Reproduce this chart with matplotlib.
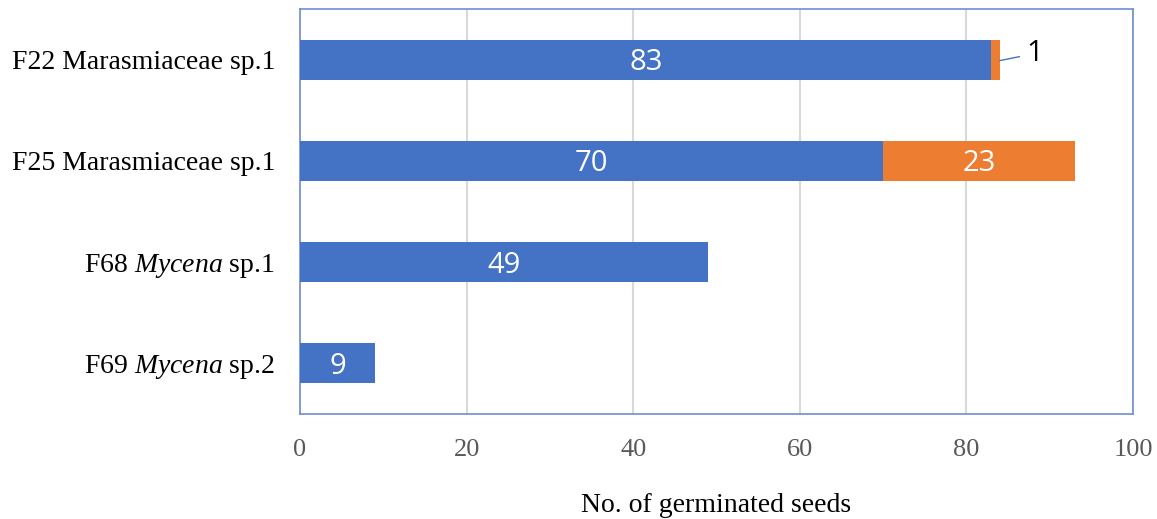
import matplotlib.pyplot as plt
import numpy as np

plt.rcParams['mathtext.fontset'] = 'custom'
plt.rcParams['mathtext.it'] = 'Liberation Serif:italic'
plt.rcParams['mathtext.rm'] = 'Liberation Serif'

# germinated seed counts per fungal isolate
isolates = ["F22 Marasmiaceae sp.1", "F25 Marasmiaceae sp.1",
            r"F68 $\mathit{Mycena}$ sp.1", r"F69 $\mathit{Mycena}$ sp.2"]
stage_a = [83, 70, 49, 9]
stage_b = [1, 23, 0, 0]
xticks = [0, 20, 40, 60, 80, 100]

blue = '#4472C4'
orange = '#ED7D31'

fig = plt.figure(figsize=(11.57, 5.19), dpi=100)
ax = fig.add_axes([300 / 1157, 1 - 414 / 519, 833 / 1157, 405 / 519])

y = np.arange(len(isolates))
h = 0.395
ax.barh(y, stage_a, height=h, color=blue, zorder=3)
ax.barh(y, stage_b, left=stage_a, height=h, color=orange, zorder=3)

for yi, a, b in zip(y, stage_a, stage_b):
    ax.text(a / 2, yi + 0.03, str(a), color='white', ha='center', va='center',
            fontsize=21, family='Open Sans', zorder=4)
    if b >= 5:
        ax.text(a + b / 2, yi + 0.03, str(b), color='white', ha='center', va='center',
                fontsize=21, family='Open Sans', zorder=4)
    elif b > 0:
        # small segment gets an outside label with a leader line
        ax.annotate(str(b), xy=(a + b, yi + 0.01), xytext=(87.2, yi - 0.06),
                    ha='left', va='center', fontsize=21, family='Open Sans',
                    color='black', zorder=4,
                    arrowprops=dict(arrowstyle='-', color=blue, lw=1,
                                    shrinkA=3, shrinkB=0))

ax.set_xlim(0, 100)
ax.set_ylim(3.5, -0.5)
ax.set_xticks(xticks)
ax.set_xticklabels([str(t) for t in xticks], family='Liberation Serif',
                   fontsize=19, color='#595959')
ax.set_yticks(y)
ax.set_yticklabels(isolates, family='Liberation Serif', fontsize=20, color='black')
ax.tick_params(length=0, pad=18, axis='x')
ax.tick_params(length=0, pad=18, axis='y')
ax.xaxis.grid(True, color='#D9D9D9', lw=1.5, zorder=0)
ax.set_axisbelow(True)
for s in ax.spines.values():
    s.set_color('#6F8FCF')
    s.set_linewidth(1.2)

ax.set_xlabel("No. of germinated seeds", family='Liberation Serif',
              fontsize=20, labelpad=23)

fig.savefig('out.png', dpi=100)
